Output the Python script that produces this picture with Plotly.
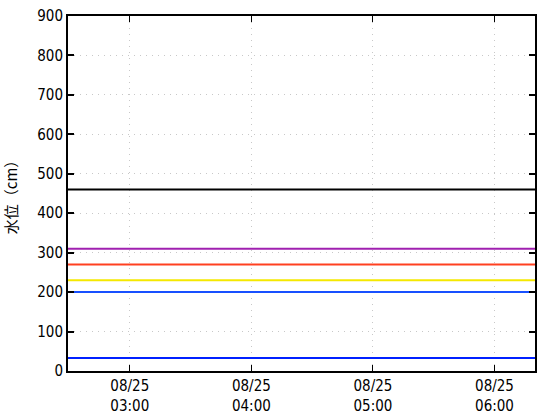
import plotly.graph_objects as go

# Time span of the chart
x_start = "2024-08-25 02:29:30"
x_end = "2024-08-25 06:20:00"

# Horizontal level lines (water level, cm)
level_names = ["基準1", "基準2", "基準3", "基準4", "基準5", "水位"]
level_values = [460, 310, 270, 230, 200, 33]
level_colors = ["#000000", "#a020b0", "#ff4020", "#f5e800", "#1850ff", "#0020ff"]

tick_vals = ["2024-08-25 03:00", "2024-08-25 04:00", "2024-08-25 05:00", "2024-08-25 06:00"]
tick_text = ["08/25<br>03:00", "08/25<br>04:00", "08/25<br>05:00", "08/25<br>06:00"]

y_ticks = [0, 100, 200, 300, 400, 500, 600, 700, 800, 900]

fig = go.Figure()
for name, val, col in zip(level_names, level_values, level_colors):
    fig.add_trace(go.Scatter(
        x=[x_start, x_end], y=[val, val], mode="lines", name=name,
        line=dict(color=col, width=2), showlegend=False,
    ))

tick_font = dict(family="DejaVu Sans Condensed, Liberation Sans", size=15, color="#000000")

fig.update_layout(
    width=560, height=420,
    margin=dict(l=68, r=25, t=16, b=49),
    paper_bgcolor="white", plot_bgcolor="white",
    xaxis=dict(
        type="date", range=[x_start, x_end],
        tickvals=tick_vals, ticktext=tick_text,
        ticks="inside", ticklen=6, tickcolor="black", tickwidth=1,
        showline=True, linecolor="black", linewidth=2, mirror="ticks",
        showgrid=True, gridcolor="#c8c8c8", griddash="1px,5px", gridwidth=1,
        tickfont=tick_font, zeroline=False, automargin=False,
    ),
    yaxis=dict(
        range=[0, 900], tickvals=y_ticks,
        ticks="inside", ticklen=6, tickcolor="black", tickwidth=2,
        showline=True, linecolor="black", linewidth=2, mirror="ticks",
        showgrid=True, gridcolor="#c8c8c8", griddash="1px,5px", gridwidth=1,
        tickfont=tick_font, zeroline=False, automargin=False,
        title=dict(text="水位（cm）", font=dict(family="Noto Sans CJK JP", size=15, color="black"), standoff=16),
    ),
)

fig.write_html("out.html", config={"displayModeBar": False},
               post_script="document.body.style.margin='0';")
